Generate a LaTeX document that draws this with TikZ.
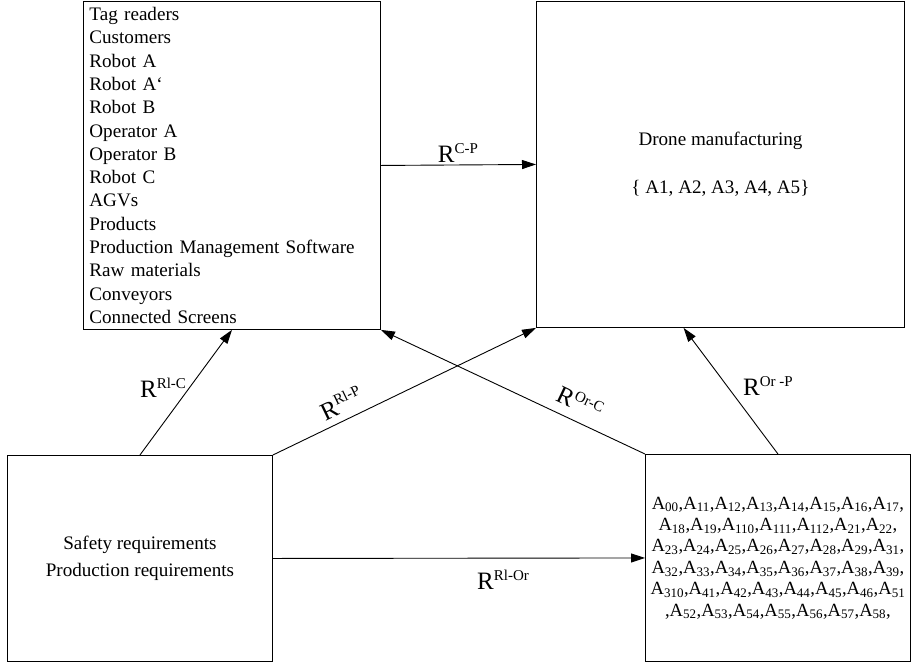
\documentclass[tikz,border=0pt]{standalone}
\usepackage{fontspec}
\setmainfont{Liberation Serif}
\usetikzlibrary{arrows.meta,positioning,calc}
\newcommand{\relname}[1]{{\fontsize{25}{25}\selectfont R}\raisebox{9pt}{\fontsize{15}{15}\selectfont #1}}
\newcommand{\Asb}[1]{A\textsubscript{#1}}
\newcommand{\tightlines}{\setlength{\lineskiplimit}{-20pt}}
\tikzset{
  blockbox/.style={draw,line width=0.9pt,anchor=north west,inner sep=0pt,
    font=\fontsize{19.1}{23.3}\selectfont},
  relarrow/.style={line width=0.9pt,-{Triangle[length=14pt,width=9pt]}},
  rellabel/.style={inner sep=0pt}
}
\begin{document}
\begin{tikzpicture}[x=1pt,y=-1pt]
\useasboundingbox (0,0) rectangle (912,662);
% the four blocks
\node[blockbox,minimum width=297pt,minimum height=328pt,
  text width=285pt,align=left] (comp) at (83,1)
  {Tag readers\\Customers\\Robot A\\Robot A\symbol{96}\\Robot B\\Operator A\\Operator B\\Robot C\\AGVs\\Products\\Production Management Software\\Raw materials\\Conveyors\\Connected Screens};
\node[blockbox,minimum width=368pt,minimum height=326pt,align=center] (prc) at (536,1)
  {Drone manufacturing\\[25pt]\{ A1, A2, A3, A4, A5\}};
\node[blockbox,minimum width=265pt,minimum height=206pt,align=center] (rl) at (7,455)
  {Safety requirements\\[4pt]Production requirements};
\node[blockbox,minimum width=265pt,minimum height=207pt,align=center,
  font=\fontsize{18.6}{21.4}\selectfont\tightlines] (orq) at (645,454)
  {\Asb{00},\Asb{11},\Asb{12},\Asb{13},\Asb{14},\Asb{15},\Asb{16},\Asb{17},\\
   \Asb{18},\Asb{19},\Asb{110},\Asb{111},\Asb{112},\Asb{21},\Asb{22},\\
   \Asb{23},\Asb{24},\Asb{25},\Asb{26},\Asb{27},\Asb{28},\Asb{29},\Asb{31},\\
   \Asb{32},\Asb{33},\Asb{34},\Asb{35},\Asb{36},\Asb{37},\Asb{38},\Asb{39},\\
   \Asb{310},\Asb{41},\Asb{42},\Asb{43},\Asb{44},\Asb{45},\Asb{46},\Asb{51}\\
   ,\Asb{52},\Asb{53},\Asb{54},\Asb{55},\Asb{56},\Asb{57},\Asb{58},};
% relations
\draw[relarrow] (comp.east) -- (prc.west);
\draw[relarrow] (rl.north) -- (comp.south);
\draw[relarrow] (rl.north east) -- (prc.south west);
\draw[relarrow] (orq.north west) -- (comp.south east);
\draw[relarrow] (orq.north) -- ($(prc.south west)!0.4!(prc.south east)$);
\draw[relarrow] (rl.east) -- (orq.west);
% relation labels
\node[rellabel] (lcp) at (458,153) {\relname{C-P}};
\node[rellabel] (lrc) at (163,388) {\relname{Rl-C}};
\node[rellabel,rotate=25.7] (lrp) at (341,403) {\relname{Rl-P}};
\node[rellabel,rotate=-25.3] (loc) at (580,402) {\relname{Or-C}};
\node[rellabel] (lop) at (768,386) {\relname{Or -P}};
\node[rellabel] (lro) at (503,580) {\relname{Rl-Or}};
\end{tikzpicture}
\end{document}
